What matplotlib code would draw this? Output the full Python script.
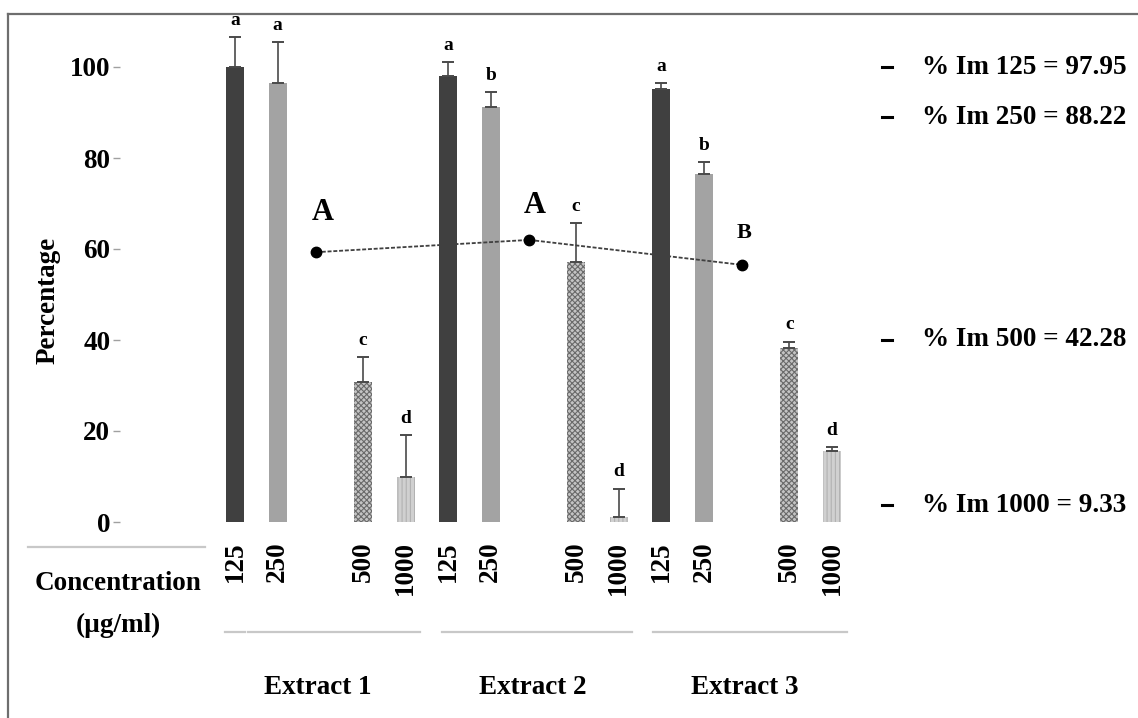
import numpy as np
from matplotlib import pyplot as plt
from matplotlib import rcParams
from matplotlib.lines import Line2D

rcParams.update({
    'font.family': ['Liberation Serif', 'DejaVu Serif'], 'font.weight': 'bold',
    'font.size': 19.5, 'hatch.linewidth': 0.8,
})

# ---- data -------------------------------------------------------------
extracts = ["Extract 1", "Extract 2", "Extract 3"]
concs = ["125", "250", "500", "1000"]
values = [[100.0, 96.5, 30.8, 9.9],
          [98.0, 91.2, 57.1, 1.1],
          [95.2, 76.5, 38.2, 15.6]]
errors = [[6.5, 9.0, 5.5, 9.2],
          [3.0, 3.3, 8.6, 6.2],
          [1.3, 2.6, 1.4, 0.9]]
letters = [["a", "a", "c", "d"],
           ["a", "b", "c", "d"],
           ["a", "b", "c", "d"]]
ic50 = [59.3, 62.0, 56.5]
ic50_letters = ["A", "A", "B"]
inhib_labels = ["% Im 125 = 97.95", "% Im 250 = 88.22",
                "% Im 500 = 42.28", "% Im 1000 = 9.33"]

# ---- figure -----------------------------------------------------------
W, H = 1138, 718
fig = plt.figure(figsize=(W / 100, H / 100), dpi=100)


def fx(px):
    return px / W


def fy(py):
    return 1 - py / H


# axes placement in pixels
ax_l, ax_r, ax_t, ax_b = 120, 860, 30, 530
ax = fig.add_axes([fx(ax_l), fy(ax_b), fx(ax_r - ax_l), (ax_b - ax_t) / H])

slot_px = (832 - 235) / 14
ax.set_xlim(-(235 - ax_l) / slot_px, (ax_r - 235) / slot_px)
ppu = 4.55
ax.set_ylim(-(ax_b - 522) / ppu, (522 - ax_t) / ppu)

styles = [dict(color="#404040"),
          dict(color="#a3a3a3"),
          dict(facecolor="#c4c4c4", edgecolor="#6a6a6a", hatch="xxxxxx", linewidth=0),
          dict(facecolor="#d0d0d0", edgecolor="#b2b2b2", hatch="||||", linewidth=0)]
slot_offsets = [0, 1, 3, 4]

xticks, xlabels = [], []
for g in range(len(extracts)):
    for k in range(len(concs)):
        x = g * 5 + slot_offsets[k]
        v, e = values[g][k], errors[g][k]
        ax.bar(x, v, width=0.42, **styles[k])
        ax.errorbar(x, v, yerr=[[0], [e]], fmt="none", ecolor="#4a4a4a",
                    elinewidth=1.2, capsize=4, capthick=1.4)
        ax.annotate(letters[g][k], (x, v + e), xytext=(0, 6), textcoords="offset points",
                    ha="center", va="bottom", fontsize=14)
        xticks.append(x)
        xlabels.append(concs[k])

# IC50 line
line_x = [g * 5 + 1.9 for g in range(len(extracts))]
ax.plot(line_x, ic50, color="#404040", lw=1.3, ls=(0, (2.2, 1.0)),
        marker="o", ms=7.5, mfc="black", mec="black")
lsize = [22, 22, 16]
loffs = [(5, 18), (4, 14), (1, 16)]
for x, v, t, s, o in zip(line_x, ic50, ic50_letters, lsize, loffs):
    ax.annotate(t, (x, v), xytext=o, textcoords="offset points",
                ha="center", va="bottom", fontsize=s)

ax.set_xticks(xticks)
ax.set_xticklabels(xlabels, rotation=90)
ax.tick_params(axis="x", length=0, pad=8)
ax.set_yticks([0, 20, 40, 60, 80, 100])
ax.tick_params(axis="y", length=5, width=1, color="#a0a0a0", pad=2)
for s in ax.spines.values():
    s.set_visible(False)

ax.text(fx(48), fy(300), "Percentage", transform=fig.transFigure, rotation=90,
        ha="center", va="center", fontsize=19.5)

# ---- layout lines & texts in figure pixels --------------------------
def hline(x0, x1, y, color="#c8c8c8", lw=1.6):
    fig.add_artist(Line2D([fx(x0), fx(x1)], [fy(y), fy(y)], color=color, lw=lw))


hline(28, 205, 547)
hline(225, 245, 632)
hline(248, 420, 632)
hline(442, 632, 632)
hline(653, 847, 632)

fig.text(fx(118), fy(583), "Concentration", ha="center", va="center")
fig.text(fx(118), fy(625), "(µg/ml)", ha="center", va="center")
for x, name in zip([318, 533, 745], extracts):
    fig.text(fx(x), fy(688), name, ha="center", va="center")

for lab, ypx in zip(inhib_labels, [67, 117, 340, 505]):
    hline(882, 892, ypx, color="black", lw=2.2)
    fig.text(fx(922), fy(ypx), lab, ha="left", va="center")

# outer frame (left and top edges)
fig.add_artist(Line2D([fx(8), fx(8)], [fy(14), 0], color="#6e6e6e", lw=1.6))
fig.add_artist(Line2D([fx(8), 1], [fy(14), fy(14)], color="#6e6e6e", lw=1.6))

plt.savefig("out.png", dpi=100)
